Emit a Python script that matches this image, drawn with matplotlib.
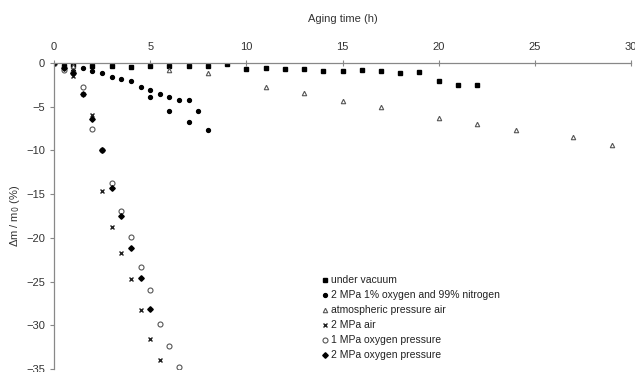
import matplotlib
matplotlib.use("Agg")
from matplotlib import pyplot as plt

plt.rcParams["font.family"] = ["Liberation Sans", "DejaVu Sans"]

# aging time (h) and relative mass change (%) per atmosphere
vacuum_t = [0, 0.5, 1, 2, 3, 4, 5, 6, 7, 8, 9, 10, 11, 12, 13, 14, 15, 16, 17, 18, 19, 20, 21, 22]
vacuum_dm = [0, -0.3, -0.2, -0.3, -0.3, -0.5, -0.35, -0.35, -0.35, -0.35, -0.1, -0.7, -0.6, -0.7,
             -0.7, -0.95, -0.9, -0.8, -0.95, -1.2, -1.05, -2.1, -2.5, -2.5]

n2_t = [0, 0.5, 1, 1.5, 2, 2.5, 3, 3.5, 4, 4.5, 5, 5.5, 6, 6.5, 7, 7.5]
n2_dm = [0, -0.5, -0.9, -0.6, -0.9, -1.1, -1.6, -1.8, -2.1, -2.7, -3.1, -3.5, -3.85, -4.2, -4.2, -5.45]
n2b_t = [5, 6, 7, 8]
n2b_dm = [-3.85, -5.45, -6.7, -7.7]

atm_t = [0, 1, 6, 8, 11, 13, 15, 17, 20, 22, 24, 27, 29]
atm_dm = [0, -0.4, -0.8, -1.1, -2.8, -3.4, -4.4, -5.0, -6.3, -7.0, -7.7, -8.5, -9.35]

air_t = [0, 0.5, 1, 1.5, 2, 2.5, 3, 3.5, 4, 4.5, 5, 5.5]
air_dm = [0, -0.6, -1.5, -3.5, -5.95, -14.6, -18.8, -21.7, -24.7, -28.3, -31.6, -34.0]

o2_1_t = [0, 0.5, 1, 1.5, 2, 2.5, 3, 3.5, 4, 4.5, 5, 5.5, 6, 6.5]
o2_1_dm = [0, -0.8, -1.2, -2.7, -7.6, -10.0, -13.7, -16.9, -19.9, -23.3, -26.0, -29.9, -32.4, -34.8]

o2_2_t = [0, 0.5, 1, 1.5, 2, 2.5, 3, 3.5, 4, 4.5, 5]
o2_2_dm = [0, -0.6, -1.2, -3.6, -6.4, -10.0, -14.35, -17.5, -21.2, -24.6, -28.1]

labels = ["under vacuum", "2 MPa 1% oxygen and 99% nitrogen", "atmospheric pressure air",
          "2 MPa air", "1 MPa oxygen pressure", "2 MPa oxygen pressure"]

fig = plt.figure(figsize=(6.35, 3.72), dpi=100)
ax = fig.add_axes([54 / 635, 1 - 369 / 372, (631 - 54) / 635, (369 - 63) / 372])

ax.plot(vacuum_t, vacuum_dm, "s", ms=3.5, color="black", label=labels[0], ls="none")
ax.plot(n2_t, n2_dm, "o", ms=2.8, color="black", label=labels[1], ls="none")
ax.plot(n2b_t, n2b_dm, "o", ms=2.8, color="black", ls="none")
ax.plot(atm_t, atm_dm, "^", ms=3.2, mfc="white", mec="#555555", mew=0.8, label=labels[2], ls="none")
ax.plot(air_t, air_dm, "x", ms=3.2, color="#222222", mew=1.0, label=labels[3], ls="none")
ax.plot(o2_1_t, o2_1_dm, "o", ms=3.6, mfc="white", mec="#555555", mew=0.8, label=labels[4], ls="none")
ax.plot(o2_2_t, o2_2_dm, "D", ms=2.8, color="black", label=labels[5], ls="none")

ax.set_xlim(0, 30)
ax.set_ylim(-35, 0)
ax.set_xticks(range(0, 31, 5))
ax.set_yticks(range(-35, 1, 5))

ax.xaxis.tick_top()
ax.xaxis.set_label_position("top")
ax.set_xlabel("Aging time (h)", fontsize=8, color="#333333", labelpad=14)
ax.set_ylabel("Δm / m$_0$ (%)", fontsize=8, color="#333333", labelpad=3)

for side in ["right", "bottom"]:
    ax.spines[side].set_visible(False)
for side in ["top", "left"]:
    ax.spines[side].set_color("#888888")
    ax.spines[side].set_linewidth(0.9)
ax.tick_params(axis="x", direction="inout", length=4, color="#888888", labelsize=8,
               labelcolor="#333333", pad=6)
ax.tick_params(axis="y", direction="out", length=3, color="#888888", labelsize=8,
               labelcolor="#333333")

ax.legend(loc="lower left", bbox_to_anchor=(0.455, 0.015), frameon=False, fontsize=7.5,
          handletextpad=0.2, handlelength=0.8, labelspacing=0.48, borderaxespad=0,
          labelcolor="#222222")

fig.savefig("out.png", dpi=100)
